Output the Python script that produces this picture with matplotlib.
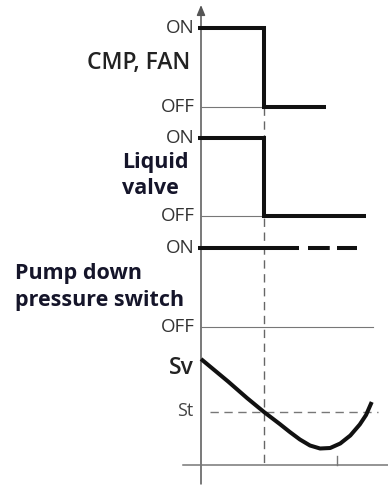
import matplotlib.pyplot as plt
import numpy as np

plt.rcParams['font.family'] = ['Open Sans', 'DejaVu Sans']

# time in units of the switch-off instant (t = 1 is when Sv drops below St)
t_switch = 1.0

# CMP, FAN state
cmp_t = [-0.05, 1.0, 1.0, 1.98]
cmp_state = [1, 1, 0, 0]

# liquid valve state
valve_t = [-0.05, 1.0, 1.0, 2.62]
valve_state = [1, 1, 0, 0]

# pump down pressure switch: measured ON, then uncertain (dashed)
pump_t_solid = [-0.05, 1.55]
pump_t_dashed = [1.70, 2.47]
pump_state = 1

# probe temperature Sv, relative to the set point St (St = 0)
sv_t = [0.0, 0.43, 0.73, 1.0, 1.25, 1.41, 1.57, 1.73, 1.89, 2.05, 2.21, 2.37, 2.52, 2.62, 2.71]
sv_val = [1.06, 0.61, 0.28, 0.0, -0.24, -0.40, -0.55, -0.67, -0.73, -0.72, -0.63, -0.47, -0.25, -0.06, 0.20]
st_val = 0.0
t_mark = 2.16

W, H = 388, 486
X0, X1 = -201 / 63, (W - 201) / 63

fig = plt.figure(figsize=(W / 100, H / 100), dpi=100)

# frame axes in pixel-like vertical units for labels and guides
fr = fig.add_axes([0, 0, 1, 1])
fr.set_xlim(X0, X1)
fr.set_ylim(H, 0)
fr.axis('off')


def band(on_px, off_px):
    a = fig.add_axes([0, 1 - off_px / H, 1, (off_px - on_px) / H])
    a.set_xlim(X0, X1)
    a.set_ylim(0, 1)
    a.axis('off')
    a.patch.set_alpha(0)
    return a


thick = dict(color='#111111', lw=2.9, solid_capstyle='butt', solid_joinstyle='miter', clip_on=False)
thin = dict(color='#777777', lw=0.8, clip_on=False)
lab = dict(color='#333333', fontsize=13.5, ha='right', va='center')
head = dict(fontsize=15.5, fontweight='bold', ha='left', va='center', color='#15152a')

# guides: switch instant and main axis
fr.plot([t_switch, t_switch], [107, 465], color='#666666', lw=1.0, ls=(0, (6, 4)), zorder=1)
fr.annotate('', xy=(0, 5), xytext=(0, 484),
            arrowprops=dict(arrowstyle='-|>,head_length=0.6,head_width=0.25', color='#555555', lw=1.1,
                            shrinkA=0, shrinkB=0), zorder=2)
fr.plot([X0 + 183 / 63, X1], [465, 465], color='#777777', lw=1.1)
fr.plot([t_mark, t_mark], [456, 465], color='#777777', lw=1.0)

# CMP, FAN
a1 = band(28, 107)
a1.plot([0, t_switch], [0, 0], **thin)
a1.plot(cmp_t, cmp_state, **thick)
fr.text(-0.1, 28, 'ON', **lab)
fr.text(-0.1, 107, 'OFF', **lab)
fr.text(-0.17, 63, 'CMP, FAN', fontsize=16.5, fontweight='semibold', ha='right', va='center', color='#222222')

# liquid valve
a2 = band(138, 216)
a2.plot([0, t_switch], [0, 0], **thin)
a2.plot(valve_t, valve_state, **thick)
fr.text(-0.1, 138, 'ON', **lab)
fr.text(-0.1, 216, 'OFF', **lab)
fr.text(X0 + 122 / 63, 162, 'Liquid', **head)
fr.text(X0 + 122 / 63, 188, 'valve', **head)

# pump down pressure switch
a3 = band(248, 327)
a3.plot([0, 2.73], [0, 0], **thin)
a3.plot(pump_t_solid, [pump_state] * 2, **thick)
a3.plot(pump_t_dashed, [pump_state] * 2, color='#111111', lw=2.9, ls=(0, (5.4, 1.8)),
        dash_capstyle='butt', clip_on=False)
fr.text(-0.1, 248, 'ON', **lab)
fr.text(-0.1, 327, 'OFF', **lab)
fr.text(X0 + 15 / 63, 273, 'Pump down', **head)
fr.text(X0 + 15 / 63, 300, 'pressure switch', **head)

# temperature curve
a4 = fig.add_axes([0, 0, 1, 1])
a4.set_xlim(X0, X1)
a4.set_ylim((412 - H) / 50, 412 / 50)
a4.axis('off')
a4.patch.set_alpha(0)
a4.plot([X0 + 210 / 63, X0 + 378 / 63], [st_val, st_val], color='#777777', lw=1.0, ls=(0, (6, 4)))
a4.plot(sv_t, sv_val, color='#111111', lw=2.9, solid_capstyle='butt', solid_joinstyle='round')
fr.text(-0.12, 368, 'Sv', fontsize=16.5, fontweight='semibold', ha='right', va='center', color='#222222')
fr.text(-0.12, 411, 'St', fontsize=13, ha='right', va='center', color='#444444')

fig.savefig('out.png', dpi=100)
